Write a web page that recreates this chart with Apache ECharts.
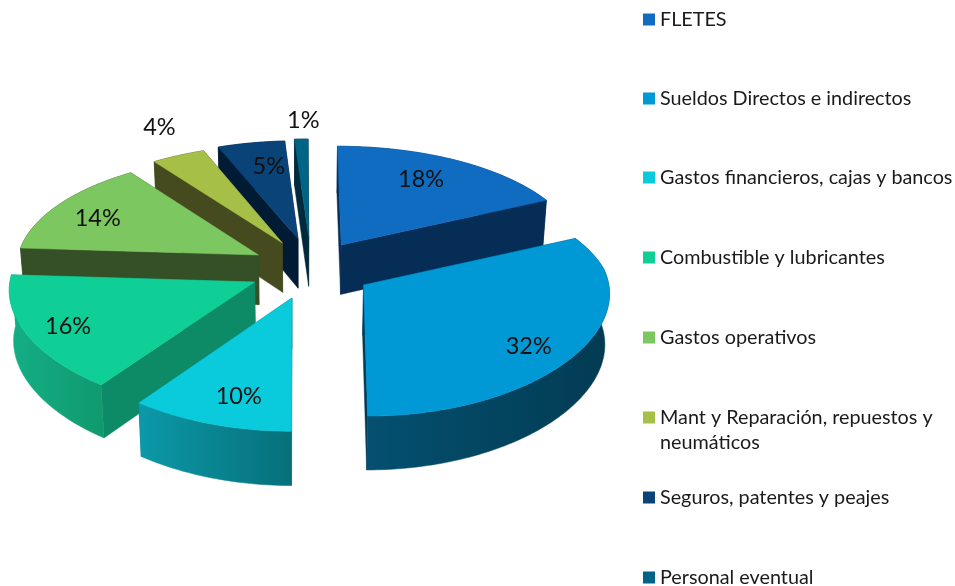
<!DOCTYPE html>
<html>
<head>
<meta charset="utf-8">
<title>Costos</title>
<style>
  html, body { margin: 0; padding: 0; background: #fff; }
  #chart { width: 955px; height: 586px; }
</style>
<script src="https://cdn.jsdelivr.net/npm/echarts@6/dist/echarts.min.js"></script>
</head>
<body>
<div id="chart"></div>
<script>
// datos
var names = [
  "FLETES",
  "Sueldos Directos e indirectos",
  "Gastos financieros, cajas y bancos",
  "Combustible y lubricantes",
  "Gastos operativos",
  "Mant y Reparación, repuestos y\nneumáticos",
  "Seguros, patentes y peajes",
  "Personal eventual"
];
var shares = [18, 32, 10, 16, 14, 4, 5, 1];

// colores: cara superior, pared radial, pared exterior (izq, der)
var topColors = ["#0f6cc1", "#0099d6", "#0acbdb", "#0fce96", "#7dc761", "#a6bf47", "#0a4378", "#006585"];
var wallColors = ["#062d55", "#023b55", "#07717d", "#0d8a66", "#355026", "#454b1e", "#021b34", "#002a3c"];
var outerLeft = ["#062d55", "#045070", "#0c99a8", "#14af85", "#355026", "#454b1e", "#021b34", "#002a3c"];
var outerRight = ["#062d55", "#023b52", "#06707a", "#10996f", "#355026", "#454b1e", "#021b34", "#002a3c"];

// vertice de cada porcion en pantalla (pie explotado), orden de pintado y posicion de etiqueta
var apexX = [342, 363, 292, 255, 258, 282, 298, 309];
var apexY = [245, 285, 298, 282, 255, 243, 239, 237];
var paintRank = [4, 6, 7, 5, 3, 2, 1, 0];
var labelR = [[0.68, 0.76], [0.77, 0.93], [0.666, 0.8], [0.82, 0.86], [0.8, 0.7], [1.2, 1.36], [0.6, 0.73], [0.7, 1.22]];
var legendY = [19, 98, 177, 257, 337, 417, 497, 577];

var cx = 300, cy = 268, rx = 243, ry = 113, perspBack = 0.1, perspFront = 0.06, perspY = 0.12, depth = 50;

function startAngle(i) {
  var sum = 0;
  for (var k = 0; k < i; k++) {
    sum += shares[k];
  }
  return sum / 100 * Math.PI * 2;
}

function project(i, r, ang, low) {
  var u = r * Math.sin(ang);
  var v = r * Math.cos(ang);
  var v0 = (cy - apexY[i]) / ry;
  var w = v + v0;
  var sx = 1 / (1 + (w > 0 ? perspBack : perspFront) * w);
  var sy = 1 / (1 + perspY * w);
  var x = cx + (apexX[i] - cx) * sx + rx * u * sx;
  var y = apexY[i] - ry * v * sy;
  if (low) {
    x = cx + (x - cx) * 0.985;
    y += depth * Math.sqrt(sy);
  }
  return [x, y];
}

function polygon(points, fill) {
  return { type: "polygon", shape: { points: points }, style: { fill: fill, stroke: fill, lineWidth: 0.5 } };
}

function renderSlice(i, api) {
  var a0 = startAngle(i);
  var a1 = a0 + api.value(0) / 100 * Math.PI * 2;
  var steps = Math.max(2, Math.ceil((a1 - a0) / 0.02));
  var rimTop = [], rimLow = [];
  for (var k = 0; k <= steps; k++) {
    var a = a0 + (a1 - a0) * k / steps;
    rimTop.push(project(i, 1, a, false));
    rimLow.push(project(i, 1, a, true));
  }
  var apexTop = project(i, 0, 0, false);
  var apexLow = project(i, 0, 0, true);
  var outer = new echarts.graphic.LinearGradient(0, 0, 1, 0, [
    { offset: 0, color: outerLeft[i] },
    { offset: 1, color: outerRight[i] }
  ]);
  var mid = (a0 + a1) / 2;
  var labelX = project(i, labelR[i][0], mid, false)[0];
  var labelY = project(i, labelR[i][1], mid, false)[1];
  return {
    type: "group",
    children: [
      polygon([apexTop, rimTop[0], rimLow[0], apexLow], wallColors[i]),
      polygon([apexTop, rimTop[steps], rimLow[steps], apexLow], wallColors[i]),
      polygon(rimTop.concat(rimLow.slice().reverse()), outer),
      polygon([apexTop].concat(rimTop), topColors[i]),
      {
        type: "text",
        x: labelX,
        y: labelY,
        style: {
          text: api.value(0) + "%",
          fill: "#111",
          font: "23.5px Lato",
          align: "center",
          verticalAlign: "middle"
        }
      }
    ]
  };
}

function initChart() {
  var myChart = echarts.init(document.getElementById("chart"));
  var series = names.map(function (name, i) {
    return {
      type: "custom",
      name: name,
      coordinateSystem: "none",
      z: 2 + paintRank[i],
      silent: true,
      itemStyle: { color: topColors[i] },
      data: [shares[i]],
      renderItem: function (params, api) {
        return renderSlice(i, api);
      }
    };
  });
  var legends = names.map(function (name, i) {
    return {
      data: [name],
      orient: "vertical",
      left: 643,
      top: legendY[i] - 12,
      padding: 0,
      selectedMode: false,
      icon: "rect",
      itemWidth: 12,
      itemHeight: 12,
      itemGap: 0,
      formatter: function (n) {
        return n.split("\n")[0];
      },
      textStyle: { color: "#1a1a1a", fontFamily: "Lato", fontSize: 19.8, lineHeight: 24, padding: [1, 0, 0, 0] }
    };
  });
  var option = {
    animation: false,
    backgroundColor: "#fff",
    legend: legends,
    graphic: [
      {
        type: "text",
        left: 660,
        top: 433,
        style: { text: names[5].split("\n")[1], fill: "#1a1a1a", font: "19.8px Lato" }
      }
    ],
    series: series
  };
  myChart.setOption(option);
}

initChart();
</script>
</body>
</html>
